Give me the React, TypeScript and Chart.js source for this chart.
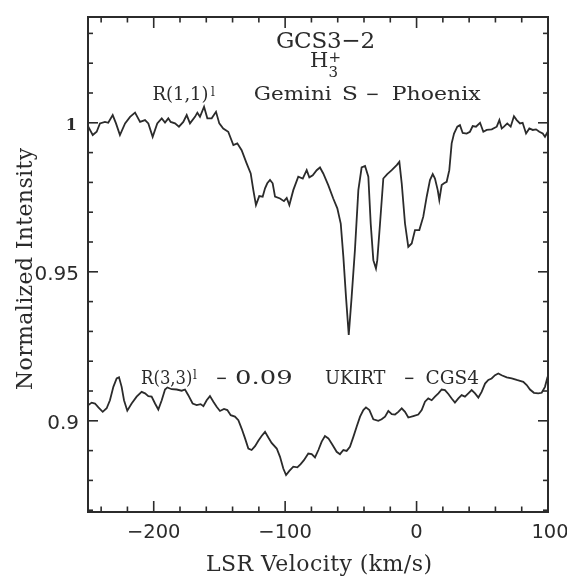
import React, { useEffect, useRef } from "react";
import { Chart, registerables } from "chart.js";

Chart.register(...registerables);

// ---------------- data ----------------
const X_MIN = -250;
const X_MAX = 100;
const Y_MIN = 0.8694;
const Y_MAX = 1.0355;

// H3+ R(1,1)l, Gemini S - Phoenix
const phoenixVelocity = [
  -249.8, -248.5, -246.4, -243.4, -240.9, -237.1, -234.6, -231.2, -228.7, -225.7,
  -221.8, -218.0, -214.2, -210.4, -206.6, -204.1, -200.8, -197.3, -193.9, -191.4,
  -188.9, -187.1, -183.8, -180.8, -177.5, -174.9, -172.4, -168.6, -166.8, -164.8,
  -161.7, -159.2, -155.9, -152.6, -150.1, -147.1, -143.3, -139.4, -136.4, -133.1,
  -129.3, -126.2, -124.2, -122.2, -119.7, -117.1, -115.3, -113.6, -111.5, -109.5,
  -107.7, -103.9, -100.9, -98.8, -96.8, -93.8, -90.0, -86.6, -83.6, -81.6,
  -79.0, -76.0, -73.5, -71.0, -67.2, -63.4, -60.3, -57.7, -55.7, -53.7,
  -51.6, -49.4, -46.9, -44.3, -41.8, -39.2, -36.7, -34.9, -32.9, -30.9,
  -29.9, -27.8, -25.3, -22.3, -18.9, -15.1, -13.1, -11.3, -8.8, -6.3,
  -3.7, -1.2, 2.1, 5.1, 7.7, 10.2, 12.3, 14.0, 16.1, 17.3,
  19.1, 20.9, 22.9, 24.9, 26.7, 28.5, 31.0, 33.0, 35.1, 38.1,
  40.6, 42.7, 45.2, 48.3, 50.8, 53.4, 57.2, 61.0, 63.0, 64.8,
  66.5, 69.0, 71.6, 74.1, 76.2, 78.7, 80.7, 83.3, 85.8, 88.4,
  90.9, 93.4, 96.0, 97.7, 99.8,
];
const phoenixIntensity = [
  0.9987, 0.9976, 0.9959, 0.997, 0.9998, 1.0003, 1.0, 1.0026, 0.9998, 0.9959,
  0.9998, 1.002, 1.0034, 1.0003, 1.0009, 0.9998, 0.9953, 0.9998, 1.0015, 1.0001,
  1.0015, 1.0003, 0.9998, 0.9987, 1.0003, 1.0026, 0.9998, 1.002, 1.0034, 1.002,
  1.0054, 1.0015, 1.0015, 1.0037, 0.9998, 0.9981, 0.997, 0.9925, 0.9931, 0.9908,
  0.9864, 0.983, 0.9774, 0.9724, 0.9754, 0.9752, 0.978, 0.9797, 0.9808, 0.9797,
  0.9752, 0.9746, 0.9737, 0.9748, 0.9724, 0.9774, 0.9819, 0.9813, 0.9841, 0.9817,
  0.9824, 0.9841, 0.985, 0.983, 0.9791, 0.9746, 0.9713, 0.9662, 0.955, 0.9416,
  0.9288, 0.9416, 0.9573, 0.9774, 0.985, 0.9855, 0.9819, 0.9662, 0.9539, 0.9511,
  0.9539, 0.9662, 0.9813, 0.9828, 0.9841, 0.9858, 0.9869, 0.9797, 0.9662, 0.9584,
  0.9595, 0.964, 0.964, 0.9685, 0.9752, 0.9808, 0.9828, 0.9813, 0.9774, 0.9741,
  0.9791, 0.9797, 0.9802, 0.9841, 0.9931, 0.9964, 0.9987, 0.9992, 0.9966, 0.9964,
  0.997, 0.9989, 0.9987, 1.0, 0.997, 0.9976, 0.9978, 0.9987, 1.0009, 0.9981,
  0.9987, 0.9998, 0.9987, 1.0022, 1.0009, 0.9998, 1.0, 0.9964, 0.9981, 0.9976,
  0.9978, 0.997, 0.9964, 0.9953, 0.997,
];

// H3+ R(3,3)l, UKIRT - CGS4 (plotted shifted down by the offset)
const CGS4_OFFSET = 0.09;
const cgs4Velocity = [
  -249.7, -247.2, -244.7, -242.1, -238.8, -235.8, -233.3, -230.7, -228.2, -226.4,
  -224.4, -222.6, -220.1, -216.8, -213.0, -209.2, -206.6, -204.1, -201.6, -199.0,
  -196.5, -193.9, -191.4, -189.6, -186.3, -182.5, -178.7, -176.2, -173.7, -170.4,
  -167.3, -164.3, -162.2, -159.7, -157.2, -154.6, -152.1, -149.6, -146.5, -144.0,
  -141.4, -138.2, -135.6, -133.1, -130.5, -128.0, -125.5, -122.9, -120.4, -117.9,
  -115.3, -112.8, -110.3, -106.4, -103.9, -101.4, -99.3, -96.8, -93.8, -90.7,
  -88.2, -85.7, -82.4, -79.8, -77.3, -74.7, -72.2, -69.7, -67.1, -63.8,
  -60.8, -58.3, -55.7, -53.2, -50.7, -48.1, -45.6, -43.0, -40.5, -38.5,
  -35.9, -32.9, -29.1, -26.6, -24.0, -21.5, -18.9, -16.4, -13.9, -11.3,
  -8.8, -6.3, -2.5, 1.3, 3.9, 6.4, 8.9, 11.5, 14.0, 16.6,
  19.1, 21.6, 24.2, 26.7, 29.2, 31.8, 34.3, 36.8, 39.4, 41.9,
  44.5, 47.0, 49.5, 52.1, 54.6, 57.1, 59.7, 62.2, 64.7, 68.6,
  72.4, 76.2, 78.7, 81.2, 83.8, 86.3, 89.3, 92.6, 95.2, 97.7,
  99.7,
];
const cgs4Intensity = [
  0.9953, 0.9961, 0.9958, 0.9945, 0.993, 0.9942, 0.9969, 1.0014, 1.0042, 1.0046,
  1.0014, 0.9969, 0.9934, 0.9958, 0.9981, 0.9997, 0.9992, 0.9983, 0.9981, 0.9958,
  0.9938, 0.9969, 1.0005, 1.0012, 1.0006, 1.0005, 1.0001, 1.0005, 0.9986, 0.9958,
  0.9953, 0.9956, 0.9949, 0.9969, 0.9983, 0.9964, 0.9947, 0.9933, 0.994, 0.9936,
  0.9919, 0.9914, 0.9902, 0.9874, 0.9841, 0.9807, 0.9802, 0.9815, 0.9833, 0.9849,
  0.9863, 0.9844, 0.9826, 0.9807, 0.9779, 0.974, 0.9718, 0.9732, 0.9746, 0.9744,
  0.9755, 0.9768, 0.979, 0.9788, 0.9777, 0.9802, 0.983, 0.9849, 0.9841, 0.9818,
  0.9796, 0.9788, 0.9802, 0.9799, 0.9813, 0.9846, 0.988, 0.9914, 0.9936, 0.9945,
  0.9936, 0.9905, 0.99, 0.9905, 0.9914, 0.9933, 0.9922, 0.9921, 0.993, 0.9942,
  0.993, 0.9911, 0.9916, 0.9921, 0.9936, 0.9964, 0.9975, 0.9969, 0.9981, 0.9992,
  1.0005, 1.0003, 0.999, 0.9975, 0.9961, 0.9975, 0.9986, 0.9981, 0.9992, 1.0003,
  0.9992, 0.9978, 0.9997, 1.0025, 1.0037, 1.0042, 1.0053, 1.0059, 1.0053, 1.0046,
  1.0042, 1.0037, 1.0034, 1.0031, 1.002, 1.0005, 0.9994, 0.9992, 0.9994, 1.0014,
  1.0048,
];

// ticks
const xMajorTicks = [-200, -100, 0, 100];
const xMajorLabels = ["−200", "−100", "0", "100"];
const xMinorTicks = [-240, -220, -180, -160, -140, -120, -80, -60, -40, -20, 20, 40, 60, 80];
const yMajorTicks = [0.9, 0.95, 1];
const yMajorLabels = ["0.9", "0.95", "1"];
const yMinorTicks = [0.87, 0.88, 0.89, 0.91, 0.92, 0.93, 0.94, 0.96, 0.97, 0.98, 0.99, 1.01, 1.02, 1.03];

// texts
const titleText = "GCS3−2";
const speciesMain = "H";
const speciesSub = "3";
const speciesSup = "+";
const upperWords = ["R(1,1)", "Gemini", "S", "−", "Phoenix"];
const upperSup = "l";
const lowerWords = ["R(3,3)", "−", "0.09", "UKIRT", "−", "CGS4"];
const lowerSup = "l";
const xTitle = "LSR Velocity (km/s)";
const yTitle = "Normalized Intensity";

// ---------------- styling ----------------
const INK = "#2b2b2b";
const SERIF = "'DejaVu Serif', serif";
const SANS = "'DejaVu Sans', sans-serif";

// word boxes [left, right] in px for the annotation rows
const upperBoxes: [number, number][] = [[153.5, 207.5], [255, 332], [343, 357.5], [366.5, 378.5], [393, 480.5]];
const lowerBoxes: [number, number][] = [[142, 191.5], [216.5, 226.5], [236.5, 292], [325, 385.5], [404.5, 414], [426.5, 478.5]];

function fitText(
  ctx: CanvasRenderingContext2D,
  text: string,
  x: number,
  y: number,
  width: number,
  font: string
) {
  ctx.font = font;
  (ctx as any).letterSpacing = "0px";
  const w = ctx.measureText(text).width;
  const n = Array.from(text).length;
  const ls = n > 1 ? (width - w) / (n - 1) : 0;
  (ctx as any).letterSpacing = `${ls.toFixed(2)}px`;
  ctx.textAlign = "left";
  ctx.fillText(text, x, y);
  (ctx as any).letterSpacing = "0px";
}

function scaleText(
  ctx: CanvasRenderingContext2D,
  text: string,
  x0: number,
  x1: number,
  y: number,
  font: string
) {
  ctx.font = font;
  ctx.textAlign = "left";
  const m = ctx.measureText(text);
  const ink = m.actualBoundingBoxRight + m.actualBoundingBoxLeft;
  const sx = ink > 0 ? (x1 - x0) / ink : 1;
  ctx.save();
  ctx.translate(x0, y);
  ctx.scale(sx, 1);
  ctx.fillText(text, m.actualBoundingBoxLeft, 0);
  ctx.restore();
}

const framePlugin = {
  id: "spectrumFrame",
  afterDatasetsDraw(chart: any) {
    const ctx: CanvasRenderingContext2D = chart.ctx;
    const { left, right, top, bottom } = chart.chartArea;
    const xs = chart.scales.x;
    const ys = chart.scales.y;
    ctx.save();
    ctx.strokeStyle = INK;
    ctx.fillStyle = INK;
    ctx.lineCap = "butt";

    // frame
    ctx.lineWidth = 2;
    ctx.strokeRect(left, top, right - left, bottom - top);

    const seg = (x1: number, y1: number, x2: number, y2: number) => {
      ctx.beginPath();
      ctx.moveTo(x1, y1);
      ctx.lineTo(x2, y2);
      ctx.stroke();
    };
    ctx.lineWidth = 1.6;
    xMajorTicks.forEach((v) => {
      const p = xs.getPixelForValue(v);
      seg(p, bottom, p, bottom - 11);
      seg(p, top, p, top + 11);
    });
    xMinorTicks.forEach((v) => {
      const p = xs.getPixelForValue(v);
      seg(p, bottom, p, bottom - 5.5);
      seg(p, top, p, top + 5.5);
    });
    yMajorTicks.forEach((v) => {
      const p = ys.getPixelForValue(v);
      seg(left, p, left + 10, p);
      seg(right, p, right - 10, p);
    });
    yMinorTicks.forEach((v) => {
      const p = ys.getPixelForValue(v);
      seg(left, p, left + 5, p);
      seg(right, p, right - 5, p);
    });

    // x tick labels
    ctx.textBaseline = "alphabetic";
    ctx.textAlign = "center";
    ctx.font = `19.5px ${SANS}`;
    xMajorTicks.forEach((v, i) => {
      const p = xs.getPixelForValue(v);
      ctx.fillText(xMajorLabels[i], p + (v === 100 ? 2 : 0), bottom + 26);
    });

    // y tick labels
    ctx.textAlign = "right";
    yMajorTicks.forEach((v, i) => {
      const p = ys.getPixelForValue(v);
      if (yMajorLabels[i] === "1") {
        ctx.font = `bold 16px ${SERIF}`;
        ctx.fillText(yMajorLabels[i], left - 11, p + 7);
      } else {
        ctx.font = `20px ${SANS}`;
        ctx.fillText(yMajorLabels[i], left - 9, p + 8.5);
      }
    });

    // axis titles
    fitText(ctx, xTitle, 206, 571, 226, `22px ${SERIF}`);
    ctx.save();
    ctx.translate(32, 390);
    ctx.rotate(-Math.PI / 2);
    fitText(ctx, yTitle, 0, 0, 242, `22px ${SERIF}`);
    ctx.restore();

    // title block
    fitText(ctx, titleText, 276, 48.3, 99, `23px ${SERIF}`);
    ctx.font = `21px ${SERIF}`;
    ctx.textAlign = "left";
    ctx.fillText(speciesMain, 310, 66.7);
    ctx.font = `15px ${SERIF}`;
    ctx.fillText(speciesSub, 328.5, 76.5);
    ctx.fillText(speciesSup, 328.5, 61.5);

    // annotations
    const annFont = `18px ${SERIF}`;
    upperWords.forEach((w, i) => scaleText(ctx, w, upperBoxes[i][0], upperBoxes[i][1], 100, annFont));
    ctx.font = `12px ${SERIF}`;
    ctx.textAlign = "left";
    ctx.fillText(upperSup, 211, 95.5);
    lowerWords.forEach((w, i) => scaleText(ctx, w, lowerBoxes[i][0], lowerBoxes[i][1], 384.3, annFont));
    ctx.font = `12px ${SERIF}`;
    ctx.textAlign = "left";
    ctx.fillText(lowerSup, 193, 379);

    ctx.restore();
  },
};

export default function App() {
  const canvasRef = useRef<HTMLCanvasElement | null>(null);

  useEffect(() => {
    const canvas = canvasRef.current;
    if (!canvas) return;
    const phoenixData = phoenixVelocity.map((v, i) => ({ x: v, y: phoenixIntensity[i] }));
    const cgs4Data = cgs4Velocity.map((v, i) => ({ x: v, y: cgs4Intensity[i] - CGS4_OFFSET }));

    const chart = new Chart(canvas, {
      type: "line",
      data: {
        datasets: [
          {
            label: "R(1,1)l Gemini S − Phoenix",
            data: phoenixData,
            borderColor: INK,
            borderWidth: 1.8,
            pointRadius: 0,
            tension: 0,
            fill: false,
          },
          {
            label: "R(3,3)l − 0.09 UKIRT − CGS4",
            data: cgs4Data,
            borderColor: INK,
            borderWidth: 1.8,
            pointRadius: 0,
            tension: 0,
            fill: false,
          },
        ],
      },
      options: {
        animation: false,
        responsive: false,
        maintainAspectRatio: false,
        devicePixelRatio: 1,
        layout: { padding: { left: 88, right: 19, top: 17, bottom: 65 } },
        plugins: { legend: { display: false }, tooltip: { enabled: false } },
        scales: {
          x: { type: "linear", min: X_MIN, max: X_MAX, display: false },
          y: { type: "linear", min: Y_MIN, max: Y_MAX, display: false },
        },
      },
      plugins: [framePlugin],
    } as any);

    return () => chart.destroy();
  }, []);

  return (
    <div style={{ position: "fixed", left: 0, top: 0, width: 567, height: 577, background: "#fff" }}>
      <canvas ref={canvasRef} width={567} height={577} style={{ display: "block" }} />
    </div>
  );
}
